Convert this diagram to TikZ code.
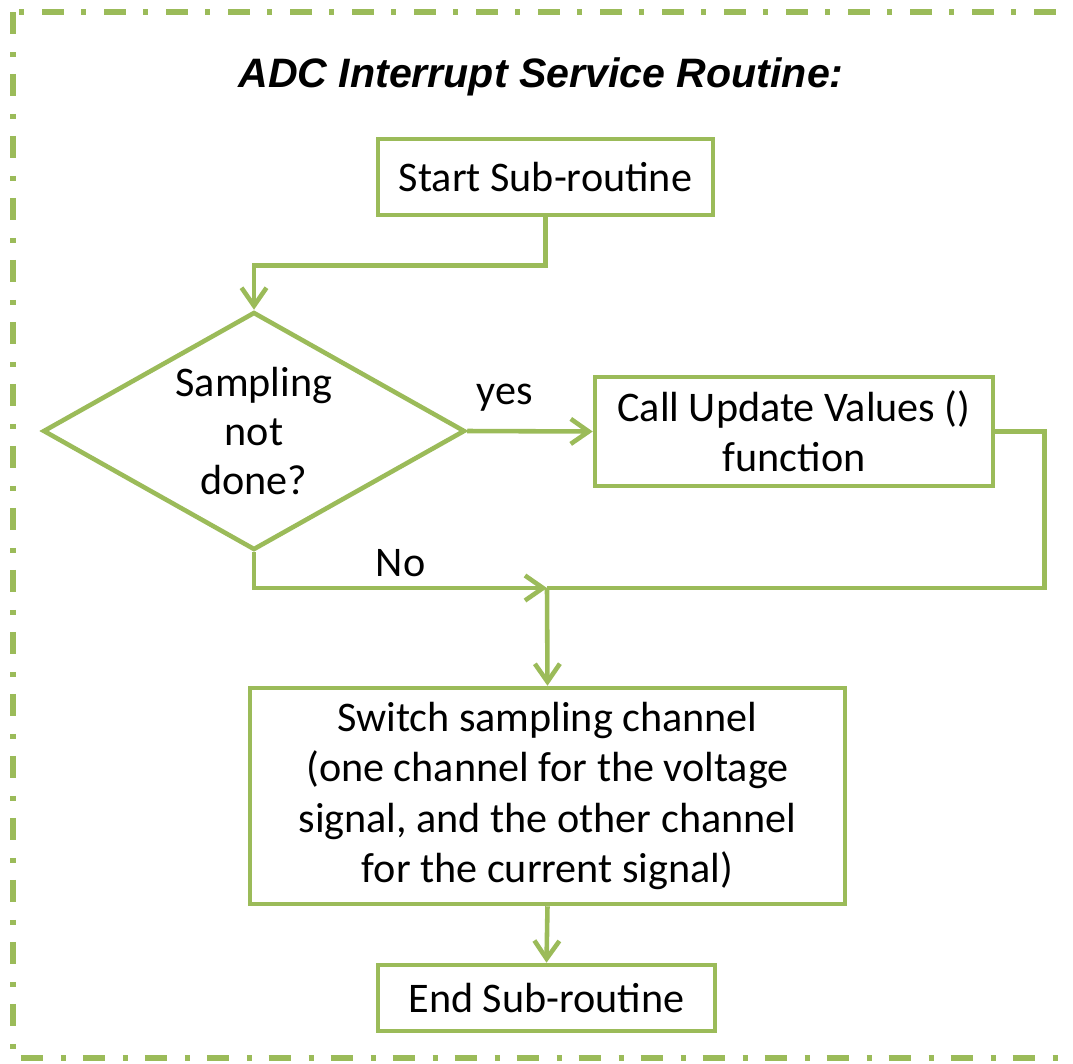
\documentclass[tikz,border=0pt]{standalone}
\usepackage{fontspec}
\setmainfont{Carlito}
\newfontfamily\titlefont{Liberation Sans}
\usepackage{tikz}
\usetikzlibrary{shapes.geometric,arrows.meta}
\definecolor{olivegreen}{HTML}{9BBB59}
\tikzset{
greenbox/.style={rectangle, draw=olivegreen, fill=white, line width=2.6pt, inner sep=0pt, align=center, font=\fontsize{24}{28.5}\selectfont},
greendiamond/.style={diamond, aspect=1.77, draw=olivegreen, fill=white, line width=2.6pt, inner sep=0pt, align=center, font=\fontsize{24}{28}\selectfont, minimum width=8.44cm, minimum height=4.76cm},
arrowline/.style={draw=olivegreen, line width=2.6pt, -{Straight Barb[length=3.6mm,width=5mm]}},
plainline/.style={draw=olivegreen, line width=2.6pt},
branchlabel/.style={font=\fontsize{24}{28}\selectfont, inner sep=2pt},
}

\begin{document}
\begin{tikzpicture}[x=0.02cm,y=-0.02cm]
  \useasboundingbox (0,0) rectangle (1073,1063);
  \begin{scope}
    \clip (0,0) rectangle (1073,1063);
    \draw[olivegreen, line width=3.3pt, dash pattern=on 0.44cm off 0.36cm on 0.1cm off 0.34cm] (13,12) rectangle (1100,1058);
  \end{scope}

  \node[font=\titlefont\bfseries\itshape\fontsize{23.4}{28}\selectfont] at (541,77) (title) {ADC Interrupt Service Routine:};

  \node[greenbox, minimum width=6.7cm, minimum height=1.52cm] at (545.5,177) (start) {Start Sub-routine};
  \node[greendiamond] at (254,431) (test) {Sampling\\not\\done?};
  \node[greenbox, minimum width=7.96cm, minimum height=2.18cm] at (794,431.5) (update) {Call Update Values ()\\function};
  \node[greenbox, minimum width=11.9cm, minimum height=4.32cm] at (547.5,796) (switch) {Switch sampling channel\\(one channel for the voltage\\signal, and the other channel\\for the current signal)};
  \node[greenbox, minimum width=6.74cm, minimum height=1.32cm] at (546.5,998) (end) {End Sub-routine};
  \coordinate (join) at (547,588);

  \draw[arrowline] (start.south) -- ++(0,48) -| (test.north);
  \draw[arrowline] (test.east) -- node[branchlabel, pos=0.3, above=8pt] {yes} (update.west);
  \draw[plainline] (update.east) -- ++(49,0) |- (join);
  \draw[arrowline] (test.south) |- node[branchlabel, pos=0.75, above=3pt] {No} (join);
  \draw[arrowline] (join) -- (switch.north);
  \draw[arrowline] (switch.south) -- (end.north);
\end{tikzpicture}
\end{document}
